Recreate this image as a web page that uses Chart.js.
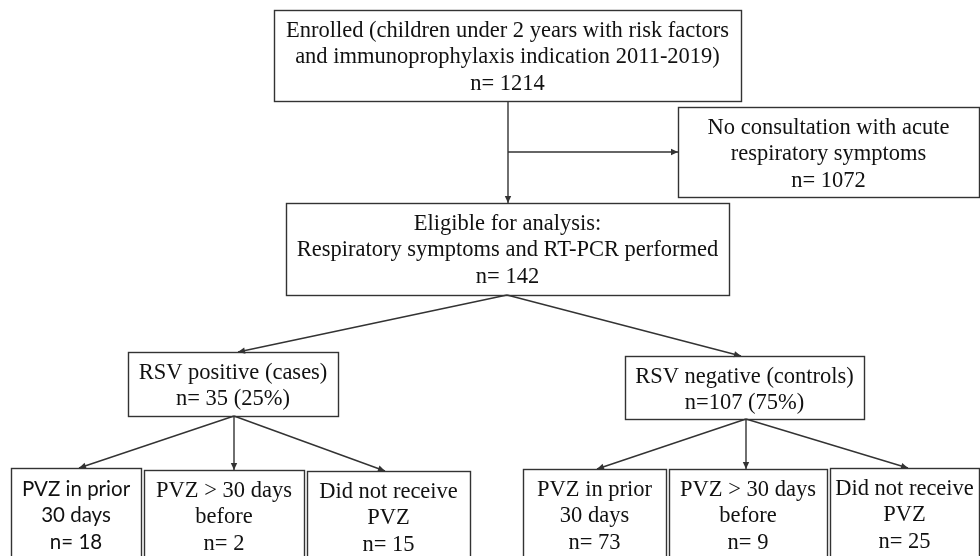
<!DOCTYPE html>
<html>
<head>
<meta charset="utf-8">
<script src="https://cdn.jsdelivr.net/npm/chart.js@4/dist/chart.umd.min.js"></script>
<style>
  html, body { margin: 0; padding: 0; background: #fff; }
  #wrap { width: 980px; height: 556px; }
</style>
</head>
<body>
<div id="wrap"><canvas id="flow"></canvas></div>
<script>
// node texts and counts
var nodeNames = [
    ['Enrolled (children under 2 years with risk factors', 'and immunoprophylaxis indication 2011-2019)'],
    ['No consultation with acute', 'respiratory symptoms'],
    ['Eligible for analysis:', 'Respiratory symptoms and RT-PCR performed'],
    ['RSV positive (cases)'],
    ['RSV negative (controls)'],
    ['PVZ in prior', '30 days'],
    ['PVZ > 30 days', 'before'],
    ['Did not receive', 'PVZ'],
    ['PVZ in prior', '30 days'],
    ['PVZ > 30 days', 'before'],
    ['Did not receive', 'PVZ']
];
var nodeCounts = [1214, 1072, 142, 35, 107, 18, 2, 15, 73, 9, 25];
var nodeShares = ['', '', '', '25%', '75%', '', '', '', '', '', ''];
var countPrefix = ['n= ', 'n= ', 'n= ', 'n= ', 'n=', 'n= ', 'n= ', 'n= ', 'n= ', 'n= ', 'n= '];
// parent -> child links
var links = [[0, 2], [0, 1], [2, 3], [2, 4], [3, 5], [3, 6], [3, 7], [4, 8], [4, 9], [4, 10]];

// layout (page units, drawn through the chart scales)
var layout = {
    boxes: [
        [274, 10, 741, 101],
        [678, 107, 979, 197],
        [286, 203, 729, 295],
        [128, 352, 338, 416],
        [625, 356, 864, 419],
        [11, 468, 141, 562],
        [144, 470, 304, 562],
        [307, 471, 470, 562],
        [523, 469, 666, 562],
        [669, 469, 827, 562],
        [830, 468, 979, 562]
    ],
    // start and end of each link, same order as links
    paths: [
        [[508, 101], [508, 203]],
        [[508, 152], [678, 152]],
        [[507, 295], [238, 352]],
        [[507, 295], [741, 356]],
        [[234, 416], [79, 468]],
        [[234, 416], [234, 470]],
        [[234, 416], [385, 471]],
        [[746, 419], [597, 469]],
        [[746, 419], [746, 469]],
        [[746, 419], [908, 468]]
    ],
    sansNodes: [5]
};

var serif = '"Liberation Serif", "Times New Roman", serif';
var sans = 'Lato, "Open Sans", sans-serif';
var ink = '#333';

var flowPlugin = {
    id: 'flow',
    afterDraw: function (chart) {
        var ctx = chart.ctx;
        var sx = chart.scales.x, sy = chart.scales.y;
        var px = function (v) { return sx.getPixelForValue(v); };
        var py = function (v) { return sy.getPixelForValue(v); };
        ctx.save();
        ctx.strokeStyle = ink;
        ctx.fillStyle = ink;
        ctx.lineWidth = 1.4;

        // connectors with arrow heads
        layout.paths.forEach(function (p) {
            var x0 = px(p[0][0]), y0 = py(p[0][1]), x1 = px(p[1][0]), y1 = py(p[1][1]);
            ctx.beginPath();
            ctx.moveTo(x0, y0);
            ctx.lineTo(x1, y1);
            ctx.stroke();
            var a = Math.atan2(y1 - y0, x1 - x0);
            ctx.beginPath();
            ctx.moveTo(x1, y1);
            ctx.lineTo(x1 - 7 * Math.cos(a) + 3.2 * Math.sin(a), y1 - 7 * Math.sin(a) - 3.2 * Math.cos(a));
            ctx.lineTo(x1 - 7 * Math.cos(a) - 3.2 * Math.sin(a), y1 - 7 * Math.sin(a) + 3.2 * Math.cos(a));
            ctx.closePath();
            ctx.fill();
        });

        // boxes and text
        nodeNames.forEach(function (lines, i) {
            var b = layout.boxes[i];
            var x0 = px(b[0]), y0 = py(b[1]), x1 = px(b[2]), y1 = py(b[3]);
            ctx.strokeStyle = ink;
            ctx.strokeRect(Math.round(x0) + 0.5, Math.round(y0) + 0.5, Math.round(x1 - x0), Math.round(y1 - y0));
            var txt = lines.slice();
            var c = countPrefix[i] + nodeCounts[i];
            if (nodeShares[i]) c += ' (' + nodeShares[i] + ')';
            txt.push(c);
            ctx.font = (layout.sansNodes.indexOf(i) >= 0 ? '20.5px ' + sans : '22.5px ' + serif);
            ctx.fillStyle = '#111';
            ctx.textAlign = 'center';
            ctx.textBaseline = 'middle';
            var cx = (x0 + x1) / 2;
            txt.forEach(function (t, k) {
                ctx.fillText(t, cx, y0 + 21 + k * 26.5);
            });
        });
        ctx.restore();
    }
};

new Chart(document.getElementById('flow').getContext('2d'), {
    type: 'scatter',
    data: { datasets: [{ data: [], pointRadius: 0 }] },
    options: {
        responsive: true,
        maintainAspectRatio: false,
        animation: false,
        layout: { padding: 0 },
        plugins: { legend: { display: false }, tooltip: { enabled: false } },
        scales: {
            x: { type: 'linear', min: 0, max: 980, display: false },
            y: { type: 'linear', min: 0, max: 556, reverse: true, display: false }
        }
    },
    plugins: [flowPlugin]
});
</script>
</body>
</html>
